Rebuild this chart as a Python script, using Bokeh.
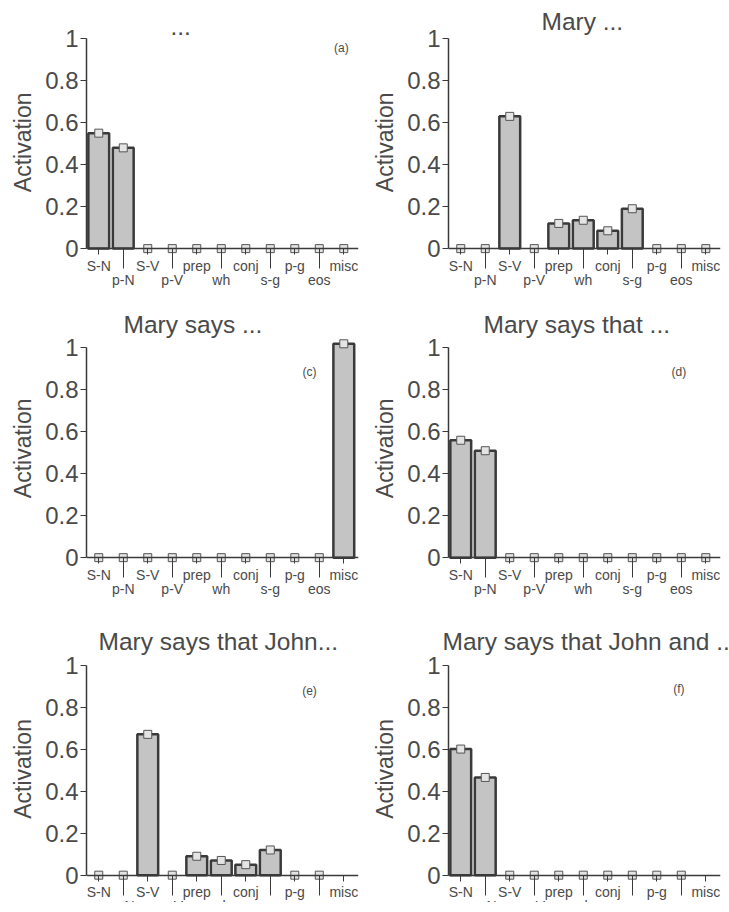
from bokeh.plotting import figure
from bokeh.models import Range1d, FixedTicker, LinearAxis, Label, Spacer
from bokeh.layouts import column, row
from bokeh.embed import file_html
from bokeh.resources import INLINE

NaN = float("nan")

categories = ["S-N", "p-N", "S-V", "p-V", "prep", "wh", "conj", "s-g", "p-g", "eos", "misc"]

vals_a = [0.55, 0.48, 0, 0, 0, 0, 0, 0, 0, 0, 0]
vals_b = [0, 0, 0.63, 0, 0.12, 0.135, 0.085, 0.19, 0, 0, 0]
vals_c = [0, 0, 0, 0, 0, 0, 0, 0, 0, 0, 1.02]
vals_d = [0.56, 0.51, 0, 0, 0, 0, 0, 0, 0, 0, 0]
vals_e = [0, 0, 0.67, 0, 0.09, 0.07, 0.05, 0.12, 0, 0, NaN]
vals_f = [0.60, 0.465, 0, 0, 0, 0, 0, 0, 0, 0, NaN]

titles = ["...", "Mary ...", "Mary says ...", "Mary says that ...",
          "Mary says that John...", "Mary says that John and .."]
panel_tags = ["(a)", "", "(c)", "(d)", "(e)", "(f)"]

y_ticks = [0, 0.2, 0.4, 0.6, 0.8, 1]
y_tick_labels = ["0", "0.2", "0.4", "0.6", "0.8", "1"]
y_title = "Activation"

FONT = "Liberation Sans"
TXT = "#4a4a4a"
INK = "#3a3a3a"
PX_PER_UNIT = 210

# per-panel layout / style
styles = [
    dict(toff=84, tag_x=9.9, tag_y=0.957, ymin=-0.19, ymax=1.02, bb=20, pad=6, br=4),
    dict(toff=93, tag_x=9.9, tag_y=0.957, ymin=-0.19, ymax=1.02, bb=20, pad=6, br=9),
    dict(toff=37, tag_x=8.6, tag_y=0.886, ymin=-0.19, ymax=1.05, bb=28, pad=6, br=4),
    dict(toff=35, tag_x=8.9, tag_y=0.886, ymin=-0.19, ymax=1.05, bb=28, pad=6, br=9),
    dict(toff=12, tag_x=8.6, tag_y=0.878, ymin=-0.13, ymax=1.05, bb=0, pad=3, br=4),
    dict(toff=-6, tag_x=8.9, tag_y=0.887, ymin=-0.13, ymax=1.05, bb=0, pad=3, br=9),
]


def make_panel(vals, title, tag, st):
    xs = list(range(len(categories)))
    fh = int(round((st["ymax"] - st["ymin"]) * PX_PER_UNIT))
    p = figure(frame_width=272, frame_height=fh,
               x_range=Range1d(-0.5, len(categories) - 0.4),
               y_range=Range1d(st["ymin"], st["ymax"]),
               x_axis_location=None,
               output_backend="svg", toolbar_location=None,
               min_border_left=86, min_border_right=st["br"],
               min_border_top=0, min_border_bottom=st["bb"])
    p.outline_line_color = None
    p.grid.visible = False
    p.background_fill_color = "white"
    p.border_fill_color = "white"

    p.title.text = title
    p.title.text_font = FONT
    p.title.text_font_size = "24.5px"
    p.title.text_font_style = "normal"
    p.title.text_color = TXT
    p.title.align = "left"
    p.title.offset = st["toff"]
    p.title.standoff = 0

    yax = p.yaxis[0]
    yax.ticker = FixedTicker(ticks=y_ticks, minor_ticks=[])
    yax.major_label_overrides = {t: l for t, l in zip(y_ticks, y_tick_labels)}
    yax.bounds = (0, 1)
    yax.major_tick_out = 6
    yax.major_tick_in = 0
    yax.minor_tick_out = 0
    yax.minor_tick_in = 0
    yax.major_tick_line_color = INK
    yax.axis_line_color = INK
    yax.axis_line_width = 1.5
    yax.major_label_text_font = FONT
    yax.major_label_text_font_size = "24px"
    yax.major_label_text_color = TXT
    yax.major_label_standoff = 2
    # leading no-break spaces keep the label centred on the 0..1 span
    yax.axis_label = "\u00a0" * st["pad"] + y_title
    yax.axis_label_text_font = FONT
    yax.axis_label_text_font_size = "23px"
    yax.axis_label_text_font_style = "normal"
    yax.axis_label_text_color = TXT
    yax.axis_label_standoff = 6

    even = [i for i in xs if i % 2 == 0]
    odd = [i for i in xs if i % 2 == 1]
    ax_even = LinearAxis(fixed_location=0,
                         ticker=FixedTicker(ticks=even, minor_ticks=[]),
                         major_label_overrides={i: categories[i] for i in even},
                         major_tick_out=6, major_tick_in=0,
                         minor_tick_out=0, minor_tick_in=0,
                         major_label_standoff=3,
                         axis_line_color=INK, axis_line_width=1.5,
                         major_tick_line_color=INK,
                         major_label_text_font=FONT,
                         major_label_text_font_size="14px",
                         major_label_text_color=TXT)
    ax_odd = LinearAxis(fixed_location=0,
                        ticker=FixedTicker(ticks=odd, minor_ticks=[]),
                        major_label_overrides={i: categories[i] for i in odd},
                        major_tick_out=20, major_tick_in=0,
                        minor_tick_out=0, minor_tick_in=0,
                        major_label_standoff=3,
                        axis_line_color=None,
                        major_tick_line_color=INK,
                        major_label_text_font=FONT,
                        major_label_text_font_size="14px",
                        major_label_text_color=TXT)
    p.add_layout(ax_even, "below")
    p.add_layout(ax_odd, "below")

    line_alpha = [1.0 if (v == v and v > 0) else 0.0 for v in vals]
    p.vbar(x=xs, top=vals, bottom=0, width=0.85,
           fill_color="#c4c4c4", line_color=INK, line_width=2.5,
           line_alpha=line_alpha)
    p.scatter(x=xs, y=vals, marker="square", size=8,
              fill_color="#e4e4e4", line_color="#555555", line_width=1)

    if tag:
        p.add_layout(Label(x=st["tag_x"], y=st["tag_y"], text=tag,
                           text_font=FONT, text_font_size="12px",
                           text_color=TXT, text_align="center",
                           text_baseline="middle"))
    return p


all_vals = [vals_a, vals_b, vals_c, vals_d, vals_e, vals_f]
panels = [make_panel(v, t, g, s) for v, t, g, s in zip(all_vals, titles, panel_tags, styles)]

layout = column(Spacer(height=5),
                row(panels[0], panels[1]),
                row(panels[2], panels[3]),
                row(panels[4], panels[5]))

with open("out.html", "w") as f:
    f.write(file_html(layout, INLINE))
